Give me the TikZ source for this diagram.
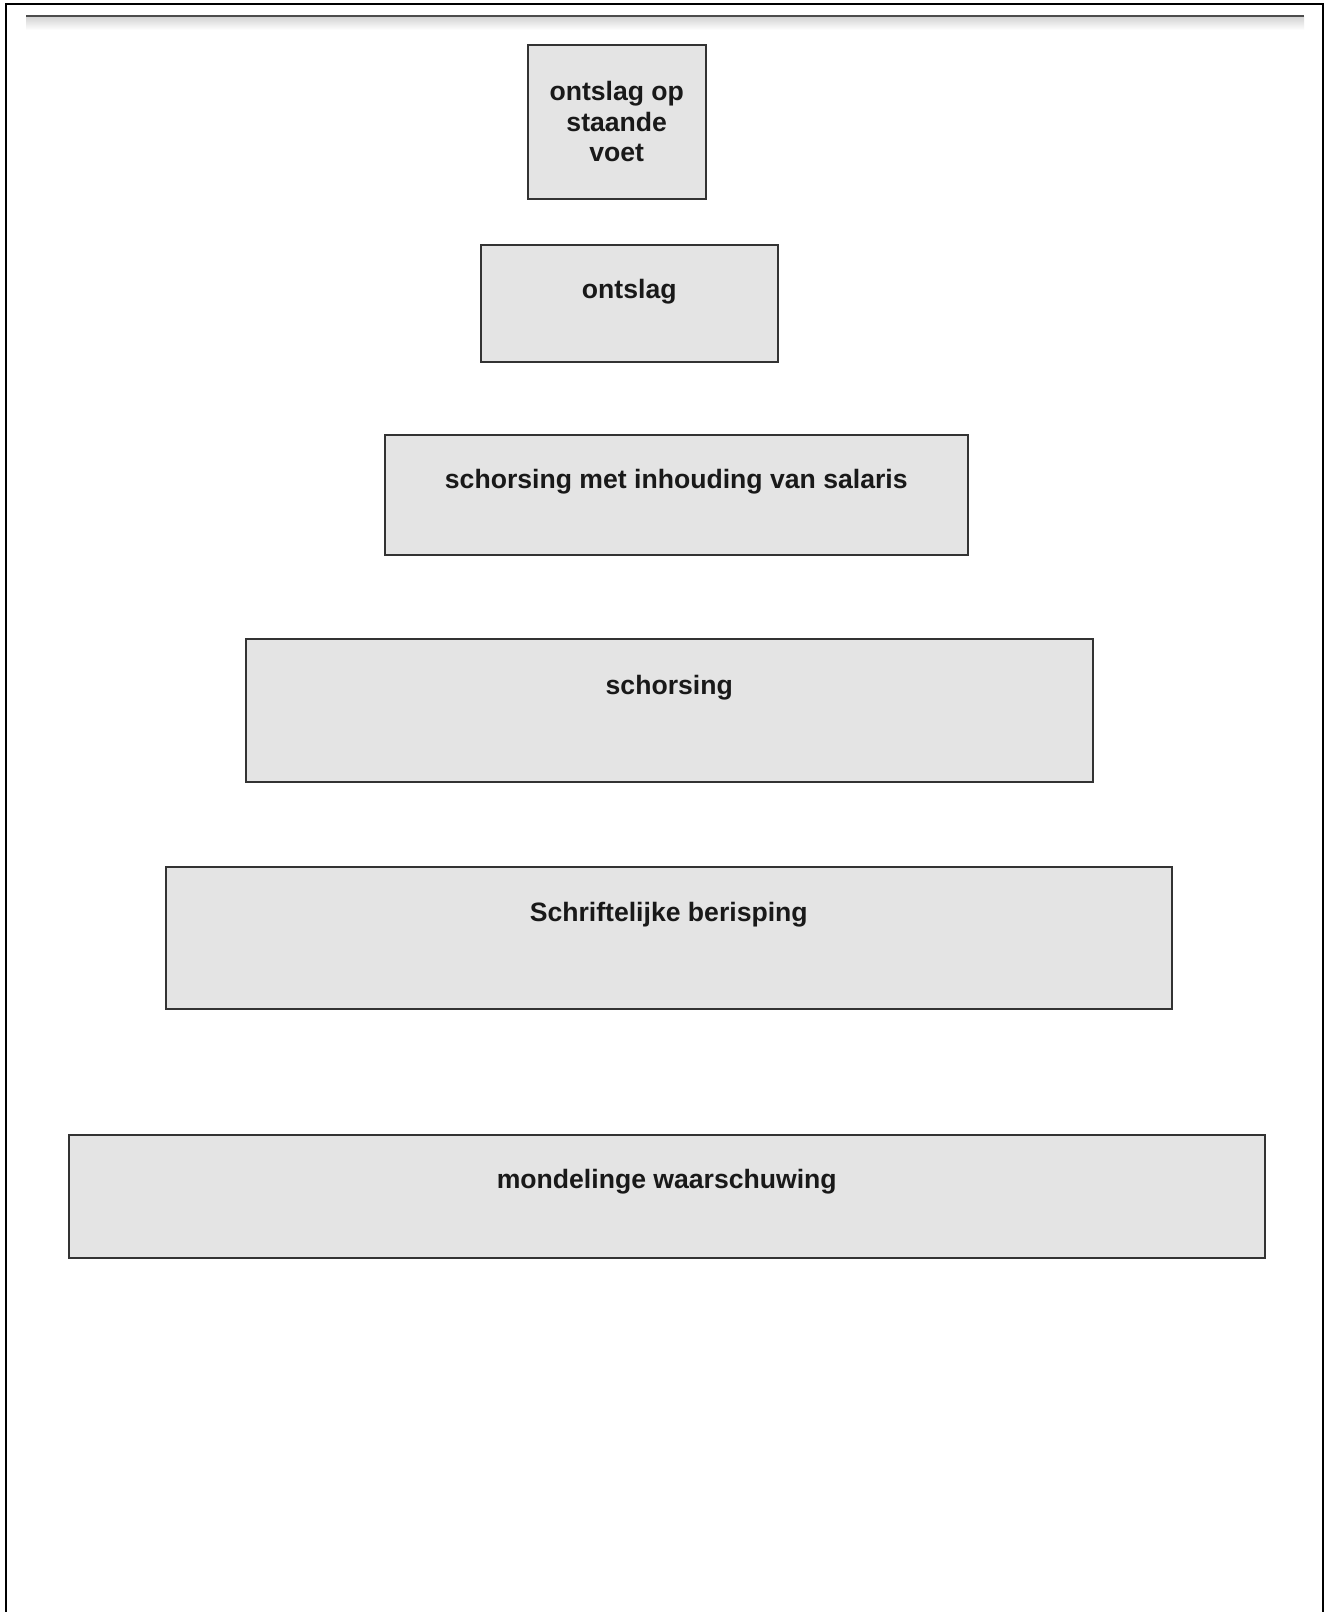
\documentclass[tikz,border=0pt]{standalone}
\usepackage{fontspec}
\setmainfont{Liberation Sans}
\usetikzlibrary{calc}
\definecolor{boxgray}{HTML}{E4E4E4}
\definecolor{edgegray}{HTML}{333333}
\begin{document}
\begin{tikzpicture}[x=1pt,y=-1pt,
  box/.style={draw=edgegray, line width=1.5pt, fill=boxgray, inner sep=0pt, anchor=north west},
  lbl/.style={font=\fontsize{26.6}{30.5}\selectfont\bfseries, text=black!90, align=center, inner sep=0pt}]
\useasboundingbox (0,0) rectangle (1325,1612);
\fill[white] (0,0) rectangle (1325,1612);
% page frame
\draw[line width=2.5pt] (6,1612) -- (6,4) -- (1323,4) -- (1323,1612);
% header rule with shadow
\shade[top color=black!18, bottom color=white] (26,16) rectangle (1304,30);
\draw[line width=2pt, black!70] (26,15.5) -- (1304,15.5);
% boxes
\node[box, minimum width=178pt, minimum height=154pt] (b1) at (527,44) {};
\node[box, minimum width=297pt, minimum height=117pt] (b2) at (480,244) {};
\node[box, minimum width=583pt, minimum height=120pt] (b3) at (384,434) {};
\node[box, minimum width=847pt, minimum height=143pt] (b4) at (245,638) {};
\node[box, minimum width=1006pt, minimum height=142pt] (b5) at (165,866) {};
\node[box, minimum width=1196pt, minimum height=123pt] (b6) at (68,1134) {};
% labels
\node[lbl] (t1) at (b1.center) {ontslag op\\staande\\voet};
\node[lbl] (t2) at ($(b2.north)+(0,48)$) {ontslag};
\node[lbl] (t3) at ($(b3.north)+(0,48)$) {schorsing met inhouding van salaris};
\node[lbl] (t4) at ($(b4.north)+(0,50)$) {schorsing};
\node[lbl] (t5) at ($(b5.north)+(0,49)$) {Schriftelijke berisping};
\node[lbl] (t6) at ($(b6.north)+(0,48)$) {mondelinge waarschuwing};
\end{tikzpicture}
\end{document}
